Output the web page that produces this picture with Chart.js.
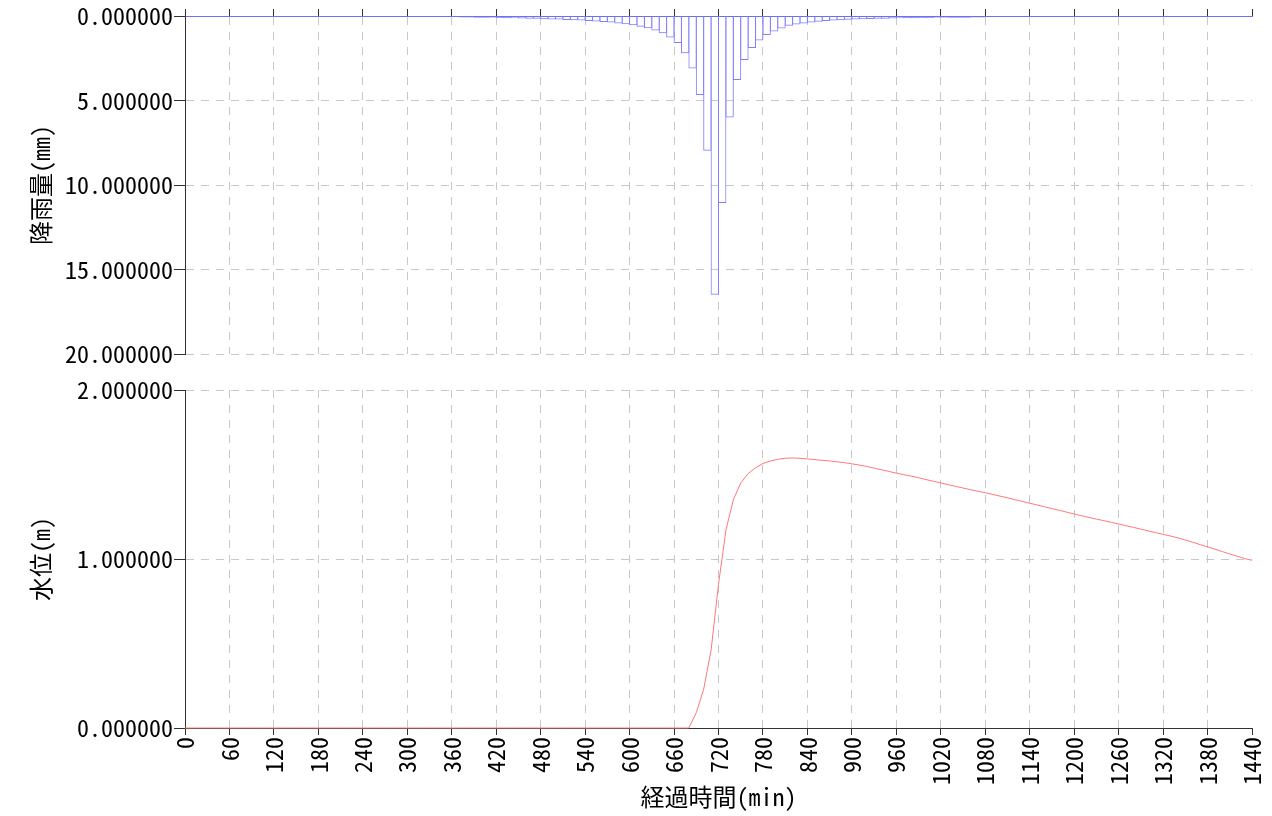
<!DOCTYPE html>
<html>
<head>
<meta charset="utf-8">
<script src="https://cdn.jsdelivr.net/npm/chart.js@4"></script>
<style>
  body { margin: 0; background: #fff; }
  #wrap { position: relative; width: 1272px; height: 816px; }
  canvas { position: absolute; left: 0; }
  #rainChart { top: 0; }
  #levelChart { top: 372px; }
</style>
</head>
<body>
<div id="wrap">
  <canvas id="rainChart" width="1272" height="372"></canvas>
  <canvas id="levelChart" width="1272" height="444"></canvas>
</div>
<script>
// rainfall per 10 min block (start minute of block)
var rainStart = [370, 380, 390, 400, 410, 420, 430, 440, 450, 460, 470, 480, 490, 500, 510, 520, 530, 540, 550, 560,
  570, 580, 590, 600, 610, 620, 630, 640, 650, 660, 670, 680, 690, 700, 710, 720, 730, 740, 750, 760,
  770, 780, 790, 800, 810, 820, 830, 840, 850, 860, 870, 880, 890, 900, 910, 920, 930, 940, 950, 960,
  970, 980, 990, 1000, 1010, 1020, 1030, 1040, 1050, 1060, 1070];
var rainMm = [0.09, 0.09, 0.10, 0.10, 0.11, 0.12, 0.13, 0.14, 0.15, 0.16, 0.17, 0.19, 0.20, 0.21, 0.23, 0.25, 0.27, 0.30, 0.32, 0.35,
  0.39, 0.44, 0.49, 0.55, 0.63, 0.72, 0.86, 1.02, 1.27, 1.60, 2.20, 3.10, 4.68, 7.98, 16.50, 11.07, 6.00, 3.78, 2.60, 1.90,
  1.45, 1.13, 0.92, 0.74, 0.58, 0.51, 0.44, 0.38, 0.34, 0.30, 0.27, 0.25, 0.22, 0.20, 0.19, 0.18, 0.17, 0.16, 0.15, 0.14,
  0.13, 0.13, 0.12, 0.12, 0.11, 0.11, 0.10, 0.10, 0.10, 0.09, 0.09];

// water level every 10 min, 0 .. 1440
var levelTime = [];
for (var t = 0; t <= 1440; t += 10) levelTime.push(t);
var levelM = [
  0, 0, 0, 0, 0, 0, 0, 0, 0, 0, 0, 0, 0, 0, 0, 0, 0, 0, 0, 0,
  0, 0, 0, 0, 0, 0, 0, 0, 0, 0, 0, 0, 0, 0, 0, 0, 0, 0, 0, 0,
  0, 0, 0, 0, 0, 0, 0, 0, 0, 0, 0, 0, 0, 0, 0, 0, 0, 0, 0, 0,
  0, 0, 0, 0, 0, 0, 0, 0, 0,
  0.09, 0.23, 0.46, 0.85, 1.17, 1.35, 1.45, 1.505, 1.54, 1.565, 1.58, 1.59, 1.596, 1.598, 1.596, 1.592,
  1.588, 1.584, 1.58, 1.575, 1.57, 1.563, 1.556, 1.548, 1.538, 1.528, 1.518, 1.508, 1.499, 1.49, 1.481,
  1.47, 1.46, 1.45, 1.44, 1.43, 1.42, 1.41, 1.401, 1.392, 1.382, 1.372, 1.362, 1.351, 1.341, 1.33,
  1.32, 1.309, 1.298, 1.288, 1.277, 1.266, 1.256, 1.246, 1.236, 1.227, 1.217, 1.207, 1.197, 1.187, 1.177,
  1.166, 1.156, 1.146, 1.136, 1.125, 1.112, 1.099, 1.085, 1.072, 1.058, 1.044, 1.03, 1.016, 1.003, 0.992
];

var rainTicks = [0, 5, 10, 15, 20];
var levelTicks = [0, 1, 2];

Chart.defaults.font.family = '"Noto Sans Mono CJK JP", "DejaVu Sans Mono", monospace';
Chart.defaults.font.size = 24;
Chart.defaults.color = '#000';

var gridGray = 'rgb(200,200,200)';
var axisDark = '#333';

function vGridColor(ctx) {
  var v = ctx.tick ? ctx.tick.value : null;
  return (v === null || v === 0 || v === 1440) ? 'rgba(0,0,0,0)' : gridGray;
}

// drop the edge padding chart.js reserves for the end labels
function noSidePad(s) {
  s.paddingLeft = 0;
  s.paddingRight = 0;
}

var rainData = rainStart.map((s, i) => ({ x: s + 5, y: rainMm[i] }));
var levelData = levelTime.map((t, i) => ({ x: t, y: levelM[i] }));

new Chart(document.getElementById('rainChart'), {
  type: 'bar',
  data: {
    datasets: [{
      data: rainData,
      backgroundColor: 'rgba(255,255,255,0)',
      borderColor: 'rgb(128,128,255)',
      borderWidth: 1,
      barPercentage: 1.13,
      categoryPercentage: 1
    }]
  },
  options: {
    responsive: false,
    animation: false,
    layout: { padding: { left: 0, right: 20, top: 0, bottom: 18 } },
    plugins: { legend: { display: false }, tooltip: { enabled: false } },
    scales: {
      x: {
        type: 'linear', position: 'top', min: 0, max: 1440, offset: false,
        ticks: { display: false, stepSize: 60 },
        grid: { offset: false, color: vGridColor, tickColor: axisDark, tickLength: 7, tickBorderDash: [] },
        border: { color: 'rgb(110,110,240)', dash: [8, 7] },
        afterFit: s => { s.height = 16; noSidePad(s); }
      },
      y: {
        type: 'linear', reverse: true, min: 0, max: 20,
        afterBuildTicks: s => { s.ticks = rainTicks.map(v => ({ value: v })); },
        ticks: { padding: 1, callback: v => Number(v).toFixed(6) },
        grid: { color: ctx => (ctx.tick && ctx.tick.value === 0) ? 'rgba(0,0,0,0)' : gridGray, tickColor: axisDark, tickLength: 11, tickBorderDash: [] },
        border: { color: axisDark, dash: [8, 7] },
        title: { display: true, text: '降雨量(mm)', padding: { top: 26, bottom: 0 } },
        afterFit: s => { s.width = 185; }
      }
    }
  }
});

new Chart(document.getElementById('levelChart'), {
  type: 'line',
  data: {
    datasets: [{
      data: levelData,
      borderColor: 'rgb(255,120,120)',
      borderWidth: 1,
      pointRadius: 0,
      tension: 0,
      fill: false,
      clip: 2
    }]
  },
  options: {
    responsive: false,
    animation: false,
    layout: { padding: { left: 0, right: 20, top: 18, bottom: 0 } },
    plugins: { legend: { display: false }, tooltip: { enabled: false } },
    scales: {
      x: {
        type: 'linear', position: 'bottom', min: 0, max: 1440,
        ticks: { stepSize: 60, autoSkip: false, maxRotation: 90, minRotation: 90, padding: 2, callback: v => String(v) },
        grid: { color: vGridColor, tickColor: axisDark, tickLength: 7, tickBorderDash: [] },
        border: { color: axisDark, dash: [8, 7] },
        title: { display: true, text: '経過時間(min)', padding: { top: 0, bottom: 5 } },
        afterFit: s => { s.height = 88; noSidePad(s); }
      },
      y: {
        type: 'linear', min: 0, max: 2,
        afterBuildTicks: s => { s.ticks = levelTicks.map(v => ({ value: v })); },
        ticks: { padding: 1, callback: v => Number(v).toFixed(6) },
        grid: { color: ctx => (ctx.tick && ctx.tick.value === 0) ? 'rgba(0,0,0,0)' : gridGray, tickColor: axisDark, tickLength: 11, tickBorderDash: [] },
        border: { color: axisDark, dash: [8, 7] },
        title: { display: true, text: '水位(m)', padding: { top: 26, bottom: 0 } },
        afterFit: s => { s.width = 185; }
      }
    }
  }
});
</script>
</body>
</html>
